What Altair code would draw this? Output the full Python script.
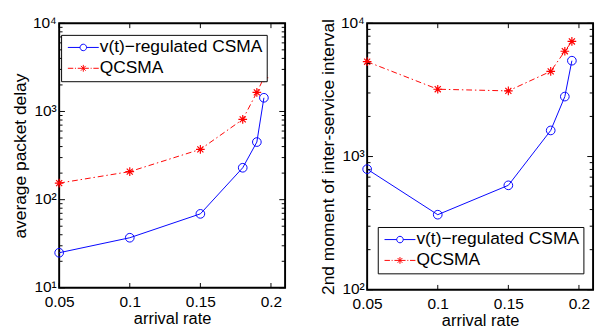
import altair as alt
import pandas as pd

# ---------------- data ----------------
rates = [0.05, 0.1, 0.15, 0.18, 0.19, 0.195]
delay_vt = [25, 37, 69, 230, 450, 1430]
delay_q = [154, 208, 372, 813, 1645, 2410]
moment_vt = [804, 366, 608, 1570, 2818, 5240]
moment_q = [5150, 3200, 3110, 4360, 6170, 7310]

series_names = ["v(t)\u2212regulated CSMA", "QCSMA"]
series_colors = ["#0000ff", "#ff0000"]

x_ticks = [0.05, 0.1, 0.15, 0.2]
y_major_left = [10, 100, 1000, 10000]
y_major_right = [100, 1000, 10000]
y_major_labels = {10: "10\u00b9", 100: "10\u00b2", 1000: "10\u00b3", 10000: "10\u2074"}
y_minor_left = [m * 10 ** k for k in (1, 2, 3) for m in range(2, 10)]
y_minor_right = [m * 10 ** k for k in (2, 3) for m in range(2, 10)]

FONT = "Liberation Sans"
W = 234

CIRCLE_PATH = "M1,0A1,1 0 1,1 -1,0A1,1 0 1,1 1,0"
STAR_PATH = "M-1,0H1M0,-1V1M-0.7,-0.7L0.7,0.7M-0.7,0.7L0.7,-0.7"
# legend symbols (line + marker), drawn at scale sqrt(256)/2 = 8
LEG_BLUE = "M-2,0H-0.42M0.42,0H2M0.42,0A0.42,0.42 0 1,1 -0.42,0A0.42,0.42 0 1,1 0.42,0"
LEG_RED = ("M-2,0H-1.3M-1.08,0H-0.95M-0.72,0H0.72M0.95,0H1.08M1.3,0H2"
           "M0,-0.44V0.44M-0.31,-0.31L0.31,0.31M-0.31,0.31L0.31,-0.31")

y_label_expr = " : ".join(
    [f"datum.value == {v} ? '{l}'" for v, l in y_major_labels.items()]
) + " : ''"


def panel(vals_vt, vals_q, ydomain, majors, minors, ytitle, leg_x, leg_y, H):
    xscale = alt.Scale(domain=[0.05, 0.21], nice=False, zero=False)
    yscale = alt.Scale(type="log", domain=ydomain, nice=False)

    x_axis = alt.Axis(values=x_ticks, format=".2~f", ticks=False,
                      domain=False, grid=False, title="arrival rate",
                      labelPadding=6, titlePadding=2, labelFlush=False,
                      labelOverlap=False, titleFontSize=17)
    y_axis = alt.Axis(values=majors, labelExpr=y_label_expr, ticks=False,
                      domain=False, grid=False, title=ytitle,
                      labelPadding=3, titlePadding=3, labelFlush=False,
                      labelOverlap=False, labelOffset=-1)
    X = alt.X("rate:Q", scale=xscale, axis=x_axis)
    Y = alt.Y("value:Q", scale=yscale, axis=y_axis)

    df_vt = pd.DataFrame({"rate": rates, "value": vals_vt})
    df_q = pd.DataFrame({"rate": rates, "value": vals_q})

    line_vt = alt.Chart(df_vt).mark_line(color=series_colors[0], strokeWidth=1).encode(x=X, y=Y)
    line_q = alt.Chart(df_q).mark_line(color=series_colors[1], strokeWidth=1,
                                       strokeDash=[6, 3, 1.5, 3]).encode(x=X, y=Y)
    pts_vt = alt.Chart(df_vt).mark_point(shape=CIRCLE_PATH, size=81, filled=False,
                                         color=series_colors[0], strokeWidth=1,
                                         opacity=1).encode(x=X, y=Y)
    pts_q = alt.Chart(df_q).mark_point(shape=STAR_PATH, size=81, filled=False,
                                       color=series_colors[1], strokeWidth=1.2,
                                       opacity=1).encode(x=X, y=Y)

    # inward tick marks on all four sides (MATLAB box)
    dmaj = pd.DataFrame({"value": majors})
    dmin = pd.DataFrame({"value": minors})
    dx = pd.DataFrame({"rate": x_ticks})
    tick_layers = [
        alt.Chart(dmaj).mark_rule(color="black", strokeWidth=1).encode(
            y=Y, x=alt.value(0), x2=alt.value(6)),
        alt.Chart(dmaj).mark_rule(color="black", strokeWidth=1).encode(
            y=Y, x=alt.value(W), x2=alt.value(W - 6)),
        alt.Chart(dmin).mark_rule(color="black", strokeWidth=1).encode(
            y=Y, x=alt.value(0), x2=alt.value(3.5)),
        alt.Chart(dmin).mark_rule(color="black", strokeWidth=1).encode(
            y=Y, x=alt.value(W), x2=alt.value(W - 3.5)),
        alt.Chart(dx).mark_rule(color="black", strokeWidth=1).encode(
            x=X, y=alt.value(H), y2=alt.value(H - 5)),
        alt.Chart(dx).mark_rule(color="black", strokeWidth=1).encode(
            x=X, y=alt.value(0), y2=alt.value(5)),
    ]

    leg = alt.Legend(title=None, orient="none", legendX=leg_x, legendY=leg_y,
                     strokeColor="black", fillColor="white", padding=4,
                     labelFontSize=18, labelFont=FONT, labelColor="black",
                     symbolSize=256, symbolOffset=10, labelOffset=8,
                     symbolStrokeWidth=1, rowPadding=3.6, labelLimit=0)
    leg_df = pd.DataFrame({"series": series_names})
    legend_layer = alt.Chart(leg_df).transform_filter("false").mark_point(
        filled=False, size=256, strokeWidth=1, opacity=1).encode(
        color=alt.Color("series:N", scale=alt.Scale(domain=series_names, range=series_colors),
                        legend=leg),
        shape=alt.Shape("series:N", scale=alt.Scale(domain=series_names, range=[LEG_BLUE, LEG_RED]),
                        legend=leg),
    )

    return alt.layer(line_vt, line_q, pts_vt, pts_q, *tick_layers,
                     legend_layer).properties(width=W, height=H)


left = panel(delay_vt, delay_q, [10, 10000], y_major_left, y_minor_left,
             "average packet delay", 2, 12, 274)
right = panel(moment_vt, moment_q, [100, 10000], y_major_right, y_minor_right,
              "2nd moment of inter-service interval", 11, 211, 276)

chart = alt.hconcat(left, right, spacing=33).resolve_scale(
    color="independent", shape="independent"
).resolve_legend(
    color="independent", shape="independent"
).properties(
    padding={"left": 3, "top": 0, "right": 0, "bottom": 0},
    background="white",
).configure_view(stroke="black", strokeWidth=2).configure_axis(
    labelFont=FONT, titleFont=FONT, labelFontSize=16, titleFontSize=18,
    titleFontWeight="normal", labelColor="black", titleColor="black"
)

chart.save("out.html", embed_options={"renderer": "svg", "actions": False})
